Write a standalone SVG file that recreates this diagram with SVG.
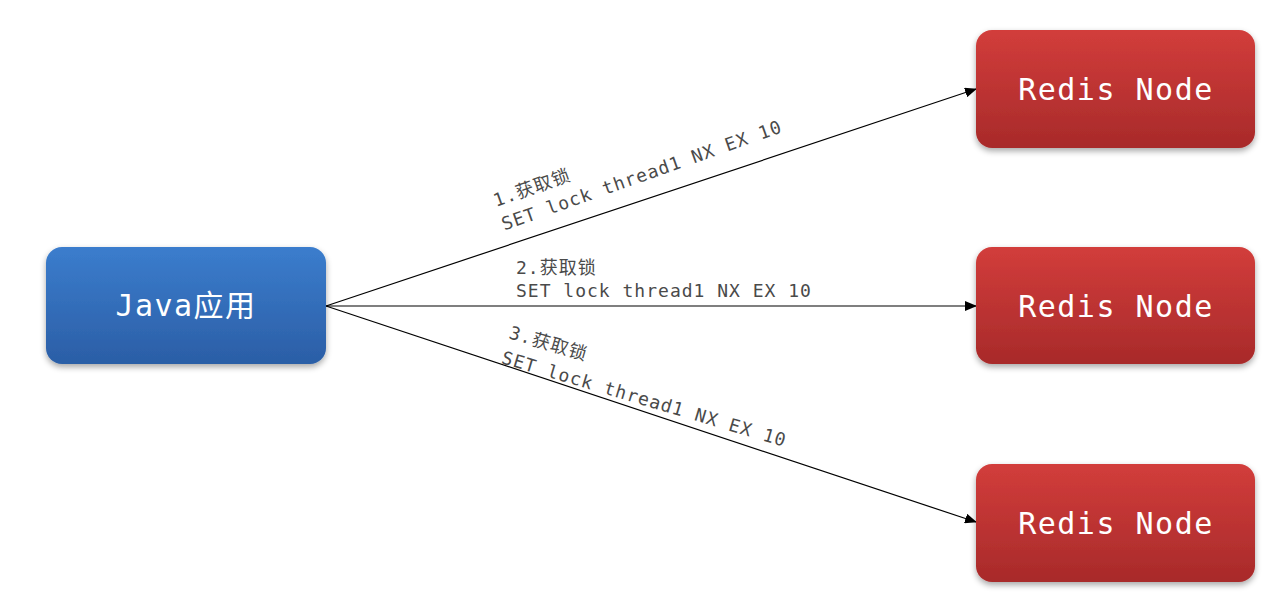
<svg xmlns="http://www.w3.org/2000/svg" width="1270" height="598" viewBox="0 0 1270 598">
<defs>
<linearGradient id="gBlue" x1="0" y1="0" x2="0" y2="1">
<stop offset="0" stop-color="#3b7dcd"/>
<stop offset="1" stop-color="#2b5ea6"/>
</linearGradient>
<linearGradient id="gRed" x1="0" y1="0" x2="0" y2="1">
<stop offset="0" stop-color="#d23d3b"/>
<stop offset="1" stop-color="#a82a2a"/>
</linearGradient>
<filter id="sh" x="-10%" y="-10%" width="120%" height="130%">
<feGaussianBlur in="SourceAlpha" stdDeviation="3"/>
<feOffset dx="0" dy="3" result="b"/>
<feComponentTransfer><feFuncA type="linear" slope="0.35"/></feComponentTransfer>
<feMerge><feMergeNode/><feMergeNode in="SourceGraphic"/></feMerge>
</filter>
<marker id="arr" markerWidth="12" markerHeight="10" refX="11" refY="5" orient="auto" markerUnits="userSpaceOnUse">
<path d="M0,0 L12,5 L0,10 Z" fill="#000"/>
</marker>
<style>
.box{filter:url(#sh)}
.nodeText{font-family:"DejaVu Sans Mono","Noto Sans CJK SC",monospace;font-size:30px;letter-spacing:1.5px;fill:#fff;text-anchor:middle;dominant-baseline:central}
.lbl{font-family:"DejaVu Sans Mono","Noto Sans CJK SC",monospace;font-size:18px;letter-spacing:1px;fill:#4a4a4a}
.conn{stroke:#000;stroke-width:1.2;fill:none;marker-end:url(#arr)}
</style>
</defs>
<rect width="1270" height="598" fill="#fff"/>
<g id="connectors">
<line class="conn" x1="326" y1="306" x2="976" y2="89"/>
<line class="conn" x1="326" y1="306" x2="976" y2="306"/>
<line class="conn" x1="326" y1="306" x2="976" y2="522"/>
<g transform="translate(496,207) rotate(-19.5)">
<text class="lbl" x="0" y="0">1.获取锁</text>
<text class="lbl" x="0" y="25">SET lock thread1 NX EX 10</text>
</g>
<text class="lbl" x="516" y="274">2.获取锁</text>
<text class="lbl" x="516" y="297">SET lock thread1 NX EX 10</text>
<g transform="translate(508,338) rotate(16.5)">
<text class="lbl" x="0" y="0">3.获取锁</text>
<text class="lbl" x="0" y="26">SET lock thread1 NX EX 10</text>
</g>
</g>
<g id="java">
<rect class="box" x="46" y="247" width="280" height="117" rx="16" fill="url(#gBlue)"/>
<text class="nodeText" x="186" y="305">Java应用</text>
</g>
<g id="redis1">
<rect class="box" x="976" y="30" width="279" height="118" rx="16" fill="url(#gRed)"/>
<text class="nodeText" x="1116" y="89">Redis Node</text>
</g>
<g id="redis2">
<rect class="box" x="976" y="247" width="279" height="117" rx="16" fill="url(#gRed)"/>
<text class="nodeText" x="1116" y="306">Redis Node</text>
</g>
<g id="redis3">
<rect class="box" x="976" y="464" width="279" height="118" rx="16" fill="url(#gRed)"/>
<text class="nodeText" x="1116" y="523">Redis Node</text>
</g>
</svg>
